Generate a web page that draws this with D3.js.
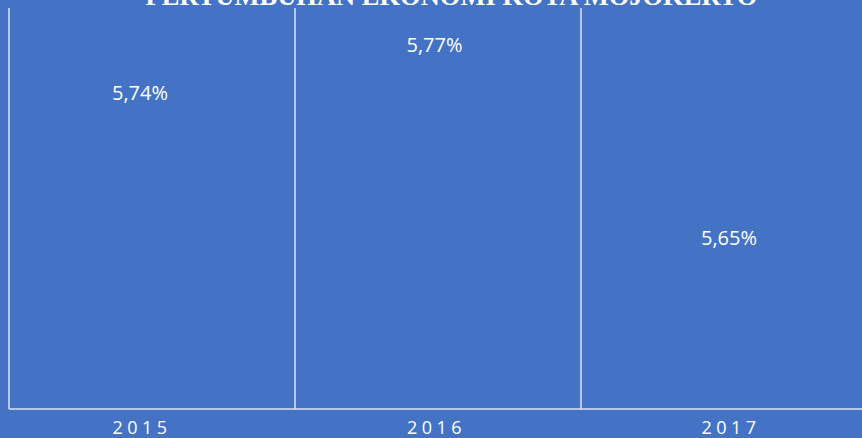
<!DOCTYPE html>
<html>
<head>
<meta charset="utf-8">
<script src="https://cdn.jsdelivr.net/npm/d3@7"></script>
<style>
  html, body { margin: 0; padding: 0; background: #4472C4; }
  svg { display: block; }
</style>
</head>
<body>
<svg id="chart" width="862" height="438"></svg>
<script>
// chart data
var title = "PERTUMBUHAN EKONOMI KOTA MOJOKERTO";
var years = ["2015", "2016", "2017"];
var growth = [5.74, 5.77, 5.65];
var growthLabels = ["5,74%", "5,77%", "5,65%"];

var width = 862, height = 438;
var svg = d3.select("#chart");

svg.append("rect")
    .attr("width", width)
    .attr("height", height)
    .attr("fill", "#4472C4");

// band scale for the category slots, point scale for label centres
var xBand = d3.scaleBand().domain(years).range([9, 867]).padding(0);
var xPoint = d3.scalePoint().domain(years).range([140, 729]);
var y = d3.scaleLinear().domain([5.6, 5.8]).range([318, -4]); // label centre
var baseY = 409;

// vertical separators
svg.selectAll(".sep")
    .data(years)
    .enter().append("line")
    .attr("class", "sep")
    .attr("x1", function (d) { return xBand(d); })
    .attr("x2", function (d) { return xBand(d); })
    .attr("y1", 8)
    .attr("y2", baseY)
    .attr("stroke", "#dae3f3")
    .attr("stroke-width", 1.5);

// baseline
svg.append("line")
    .attr("x1", xBand.range()[0])
    .attr("x2", width)
    .attr("y1", baseY)
    .attr("y2", baseY)
    .attr("stroke", "#dae3f3")
    .attr("stroke-width", 1.5);

// category labels
svg.selectAll(".cat")
    .data(years)
    .enter().append("text")
    .attr("class", "cat")
    .attr("x", function (d) { return xPoint(d) + 2; })
    .attr("y", 434)
    .attr("text-anchor", "middle")
    .style("font-family", "'Open Sans', sans-serif")
    .style("font-size", "18px")
    .style("letter-spacing", "4.5px")
    .attr("fill", "#ffffff")
    .text(function (d) { return d; });

// value labels
svg.selectAll(".val")
    .data(growth)
    .enter().append("text")
    .attr("class", "val")
    .attr("x", function (d, i) { return xPoint(years[i]); })
    .attr("y", function (d) { return y(d); })
    .attr("dy", "0.36em")
    .attr("text-anchor", "middle")
    .style("font-family", "'Open Sans', sans-serif")
    .style("font-size", "20px")
    .attr("fill", "#ffffff")
    .text(function (d, i) { return growthLabels[i]; });

// title, clipped at the top edge
svg.append("text")
    .attr("x", 451.5)
    .attr("y", 5)
    .attr("text-anchor", "middle")
    .style("font-family", "'Liberation Serif', serif")
    .style("font-weight", "bold")
    .style("font-size", "26.5px")
    .attr("fill", "#ffffff")
    .text(title);
</script>
</body>
</html>
